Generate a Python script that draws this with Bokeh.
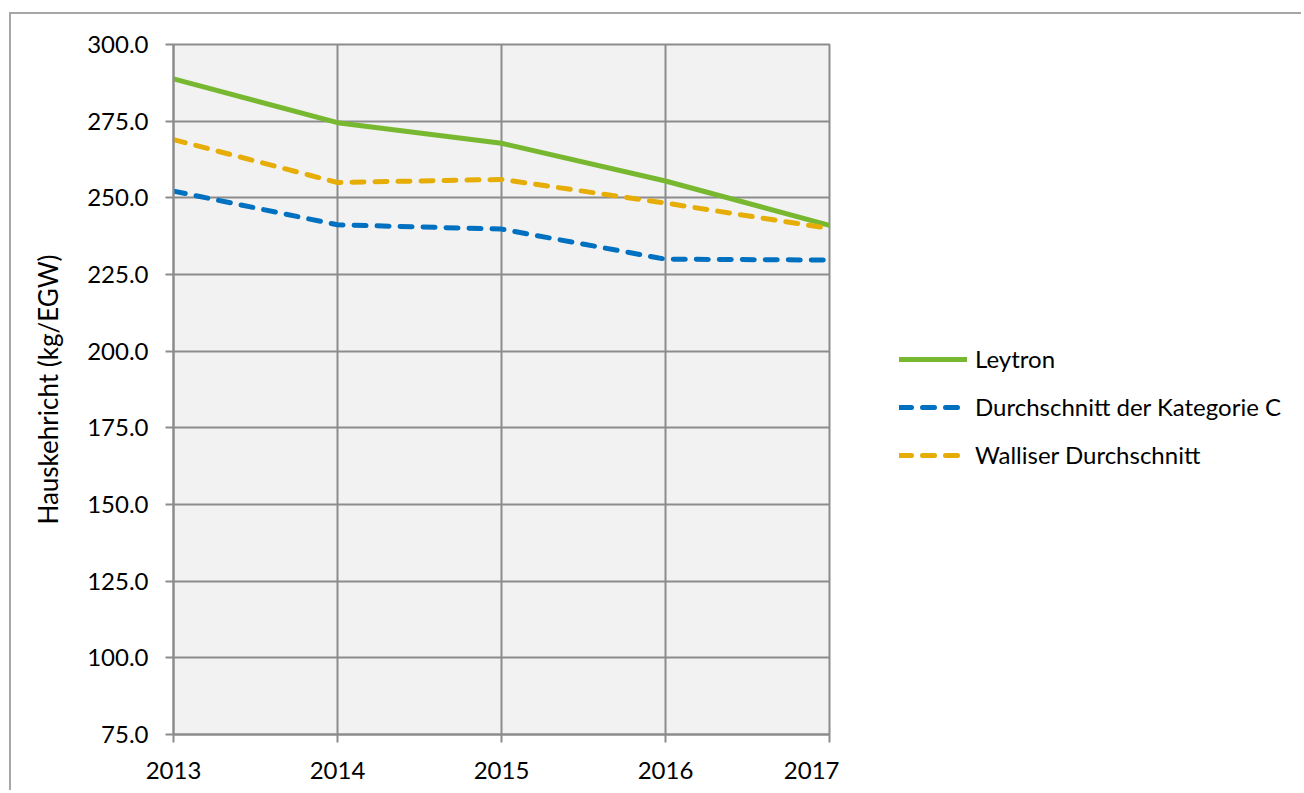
from bokeh.plotting import figure
from bokeh.layouts import row
from bokeh.models import (Legend, LegendItem, FixedTicker, PrintfTickFormatter, Range1d)
from bokeh.embed import file_html
from bokeh.resources import INLINE

years = [2013, 2014, 2015, 2016, 2017]
leytron = [288.8, 274.5, 267.8, 255.5, 241.0]
kategorie_c = [252.2, 241.2, 239.8, 230.0, 229.7]
wallis = [269.0, 255.0, 256.0, 248.3, 240.0]
series_names = ["Leytron", "Durchschnitt der Kategorie C", "Walliser Durchschnitt"]
series_colors = ["#77B830", "#0070C0", "#E5AD05"]
series_dash = ["solid", "12 11", "12 11"]
y_ticks = [75, 100, 125, 150, 175, 200, 225, 250, 275, 300]
y_label = "Hauskehricht (kg/EGW)"

FONT = "Lato"
GRID = "#8c8c8c"

p = figure(width=828, height=776, output_backend="svg", toolbar_location=None,
           x_range=Range1d(2013, 2017), y_range=Range1d(75, 300),
           min_border_left=162, min_border_right=10, min_border_top=30,
           min_border_bottom=56)
p.background_fill_color = "#f2f2f2"
p.border_fill_color = "white"
p.outline_line_color = GRID
p.outline_line_width = 2

for g in (p.xgrid, p.ygrid):
    g.grid_line_color = GRID
    g.grid_line_width = 2
p.xgrid.ticker = FixedTicker(ticks=years)
p.ygrid.ticker = FixedTicker(ticks=y_ticks)

xa = p.xaxis[0]
xa.ticker = FixedTicker(ticks=years)
xa.axis_line_color = GRID
xa.axis_line_width = 2
xa.major_tick_line_color = GRID
xa.major_tick_line_width = 2
xa.major_tick_out = 8
xa.major_tick_in = 0
xa.minor_tick_line_color = None
xa.major_label_text_font = FONT
xa.major_label_text_font_size = "24px"
xa.major_label_text_color = "black"
xa.major_label_standoff = 19

ya = p.yaxis[0]
ya.ticker = FixedTicker(ticks=y_ticks)
ya.formatter = PrintfTickFormatter(format="%.1f")
ya.axis_line_color = GRID
ya.axis_line_width = 2
ya.major_tick_line_color = GRID
ya.major_tick_line_width = 2
ya.major_tick_out = 8
ya.major_tick_in = 0
ya.minor_tick_line_color = None
ya.major_label_text_font = FONT
ya.major_label_text_font_size = "24px"
ya.major_label_text_color = "black"
ya.major_label_standoff = 17
ya.axis_label = y_label
ya.axis_label_text_font = FONT
ya.axis_label_text_font_size = "26px"
ya.axis_label_text_font_style = "normal"
ya.axis_label_text_color = "black"
ya.axis_label_standoff = 20

all_series = [leytron, kategorie_c, wallis]
for vals, col, dash in zip(all_series, series_colors, series_dash):
    p.line(years, vals, line_color=col, line_width=5, line_cap="round",
           line_join="round", line_dash=dash)

# legend panel to the right of the chart (its own lines lie outside its ranges)
lp = figure(width=462, height=776, output_backend="svg", toolbar_location=None,
            x_range=Range1d(0, 1), y_range=Range1d(0, 1),
            x_axis_location=None, y_axis_location=None,
            min_border=0, min_border_left=0, min_border_right=0,
            min_border_top=0, min_border_bottom=0)
lp.grid.visible = False
lp.outline_line_color = None
lp.background_fill_color = "white"
lp.border_fill_color = "white"

items = []
for name, vals, col, dash in zip(series_names, all_series, series_colors, series_dash):
    r = lp.line(years, vals, line_color=col, line_width=5, line_cap="round",
                line_join="round", line_dash=dash)
    items.append(LegendItem(label=name, renderers=[r]))

legend = Legend(items=items, location=(60, 265), glyph_width=68, glyph_height=26,
                label_height=26, label_standoff=8, spacing=19, padding=0, margin=0,
                border_line_alpha=0, background_fill_alpha=0,
                label_text_font=FONT, label_text_font_size="24px",
                label_text_color="black")
lp.add_layout(legend, "center")

layout = row(p, lp, styles={"margin-left": "9px", "margin-top": "12px",
                            "border-left": "2px solid #a6a6a6",
                            "border-top": "2px solid #a6a6a6"})

open("out.html", "w").write(file_html(layout, INLINE))
